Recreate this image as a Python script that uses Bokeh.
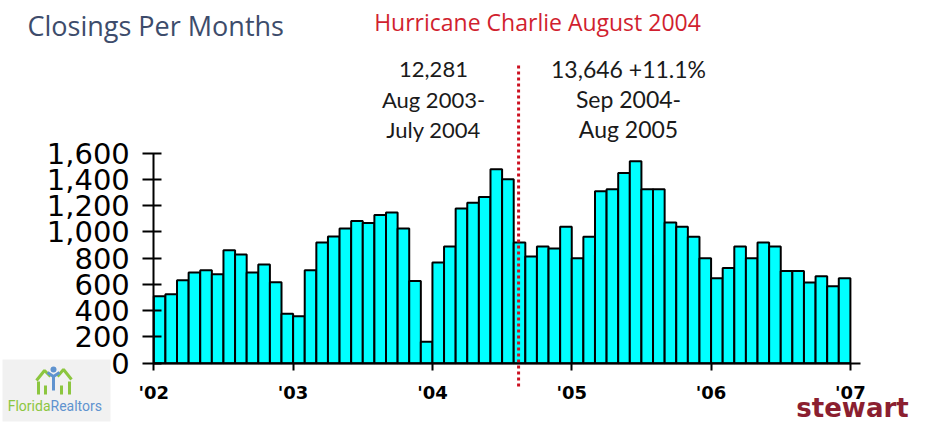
from bokeh.plotting import figure
from bokeh.models import FixedTicker, NumeralTickFormatter, Range1d
from bokeh.core.properties import value
from bokeh.embed import file_html
from bokeh.resources import INLINE

# ---------------- data ----------------
years = ["'02", "'03", "'04", "'05", "'06", "'07"]
closings_2002 = [510, 526, 632, 691, 709, 678, 861, 828, 691, 752, 617, 376]
closings_2003 = [358, 709, 919, 965, 1026, 1084, 1069, 1130, 1148, 1026, 627, 163]
closings_2004 = [767, 889, 1178, 1222, 1267, 1478, 1402, 919, 813, 889, 874, 1039]
closings_2005 = [800, 963, 1310, 1326, 1450, 1539, 1326, 1326, 1072, 1039, 963, 800]
closings_2006 = [648, 726, 889, 800, 919, 889, 703, 703, 615, 663, 587, 648]
y_ticks = [0, 200, 400, 600, 800, 1000, 1200, 1400, 1600]
hurricane_month = 31 + 13 / 31.0   # Aug 13, 2004 (months since Jan 2002)

title_text = "Closings Per Months"
hurricane_text = "Hurricane Charlie August 2004"
before_lines = ["12,281", "Aug 2003-", "July 2004"]
after_lines = ["13,646 +11.1%", "Sep 2004-", "Aug 2005"]

values = closings_2002 + closings_2003 + closings_2004 + closings_2005 + closings_2006
months = list(range(len(values)))

# ---------------- layout helpers (canvas px -> data) ----------------
W, H = 909, 422
X0, SX = 153.3, 11.61     # x of month 0, px per month
Y0, SY = 362.7, 0.13125   # y of value 0, px per unit
TXT = -8                  # baseline correction for text glyphs


def dx(px):
    return (px - X0) / SX


def dy(py):
    return (Y0 - py) / SY


def ty(py):
    return dy(py + TXT)


p = figure(width=W, height=H, output_backend="svg", toolbar_location=None,
           x_range=Range1d(dx(0), dx(W)), y_range=Range1d(dy(H), dy(0)),
           min_border=0, min_border_left=0, min_border_right=0,
           min_border_top=0, min_border_bottom=0)
p.outline_line_color = None
p.grid.visible = False
p.background_fill_color = "white"
p.border_fill_color = "white"

# bars
p.vbar(x=[m + 0.5 for m in months], width=1.0, top=values, bottom=0,
       fill_color="#00FFFF", line_color="black", line_width=2)

# axes
xa = p.xaxis[0]
xa.fixed_location = 0
xa.bounds = (0, dx(860))
xa.ticker = FixedTicker(ticks=[12 * i for i in range(len(years))])
xa.major_label_overrides = {12 * i: y for i, y in enumerate(years)}
xa.minor_tick_line_color = None
xa.major_tick_in = 0
xa.major_tick_out = 7
xa.axis_line_width = 2
xa.major_tick_line_width = 2
xa.major_label_standoff = 12
xa.major_label_text_font = "DejaVu Sans"
xa.major_label_text_font_style = "bold"
xa.major_label_text_font_size = "18px"
xa.major_label_text_color = "black"

ya = p.yaxis[0]
ya.fixed_location = 0
ya.bounds = (0, 1600)
ya.ticker = FixedTicker(ticks=y_ticks)
ya.formatter = NumeralTickFormatter(format="0,0")
ya.minor_tick_line_color = None
ya.major_tick_in = 8
ya.major_tick_out = 11
ya.axis_line_width = 2
ya.major_tick_line_width = 2
ya.major_label_standoff = 13
ya.major_label_text_font = "DejaVu Sans"
ya.major_label_text_font_size = "29px"
ya.major_label_text_color = "black"

# hurricane marker
p.segment(x0=[hurricane_month], y0=[dy(386)], x1=[hurricane_month], y1=[dy(63)],
          line_color="#CC1020", line_width=3, line_dash="3 3")

# titles / annotations
p.text(x=[dx(27)], y=[ty(33)], text=[title_text], text_font=value("Open Sans"),
       text_font_size=value("27px"), text_color="#3D4C6B",
       text_align="left", text_baseline="alphabetic")
p.text(x=[dx(537)], y=[ty(29)], text=[hurricane_text], text_font=value("Open Sans"),
       text_font_size=value("23px"), text_color="#D11F2F",
       text_align="center", text_baseline="alphabetic")
base = [76.5, 106.7, 136.7]
p.text(x=[dx(433)] * 3, y=[ty(b) for b in base], text=before_lines,
       text_font=value("Lato"), text_font_size=value("22px"), text_color="#1a1a1a",
       text_align="center", text_baseline="alphabetic")
p.text(x=[dx(628)] * 3, y=[ty(b) for b in base], text=after_lines,
       text_font=value("Lato"), text_font_size=value("23px"), text_color="#1a1a1a",
       text_align="center", text_baseline="alphabetic")

# Florida Realtors logo (approximation)
oy = -10
p.quad(left=[dx(2)], right=[dx(110)], top=[dy(369 + oy)], bottom=[dy(421)],
       fill_color="#F1F1F1", line_color=None)
green, blue = "#8CC63F", "#5F93CF"
p.line(x=[dx(36), dx(44), dx(50)], y=[dy(390 + oy), dy(380 + oy), dy(386 + oy)],
       line_color=green, line_width=3)
p.line(x=[dx(57), dx(63), dx(71)], y=[dy(386 + oy), dy(379 + oy), dy(389 + oy)],
       line_color=green, line_width=3)
p.segment(x0=[dx(38), dx(69), dx(45), dx(61)],
          y0=[dy(391 + oy), dy(391 + oy), dy(395 + oy), dy(395 + oy)],
          x1=[dx(38), dx(69), dx(45), dx(61)],
          y1=[dy(404 + oy)] * 4, line_color=green, line_width=3)
p.line(x=[dx(47), dx(53), dx(59)], y=[dy(382 + oy), dy(386 + oy), dy(382 + oy)],
       line_color=blue, line_width=3)
p.segment(x0=[dx(53)], y0=[dy(386 + oy)], x1=[dx(53)], y1=[dy(400 + oy)],
          line_color=blue, line_width=3)
p.scatter(x=[dx(53)], y=[dy(379 + oy)], size=6, fill_color=blue, line_color=None)
p.text(x=[dx(50)], y=[ty(413)], text=["Florida"], text_font=value("Roboto"),
       text_font_size=value("14px"), text_color=green,
       text_align="right", text_baseline="alphabetic")
p.text(x=[dx(50)], y=[ty(413)], text=["Realtors"], text_font=value("Roboto"),
       text_font_size=value("14px"), text_color=blue,
       text_align="left", text_baseline="alphabetic")

# stewart logo
p.text(x=[dx(852)], y=[ty(415)], text=["stewart"], text_font=value("DejaVu Sans"),
       text_font_style="bold", text_font_size=value("26px"), text_color="#8B1F30",
       text_align="center", text_baseline="alphabetic")

open("out.html", "w").write(file_html(p, INLINE))
